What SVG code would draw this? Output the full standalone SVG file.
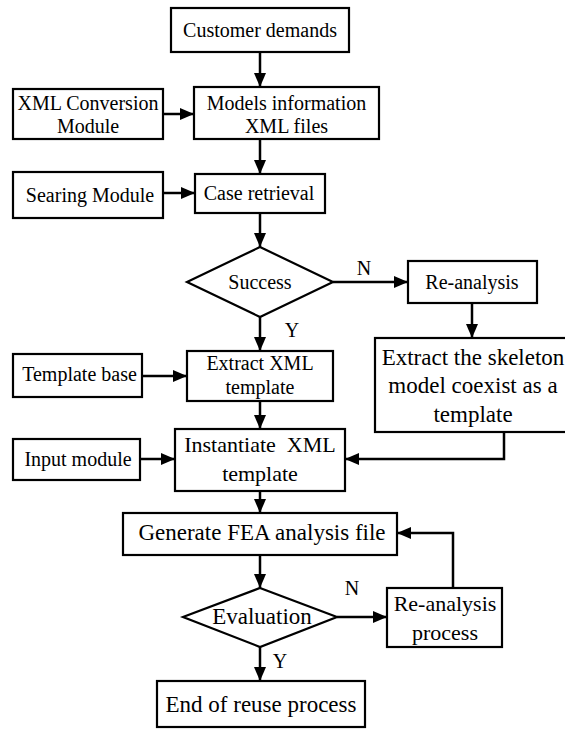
<svg xmlns="http://www.w3.org/2000/svg" width="565" height="729" viewBox="0 0 565 729">
<style>
.b{fill:#fff;stroke:#000;stroke-width:2.2}
.t{font-family:"Liberation Serif","Times New Roman",serif;font-size:20px;fill:#000;text-anchor:middle}
.l{font-size:23px}
.c{fill:none;stroke:#000;stroke-width:2.5}
</style>
<defs>
<marker id="ah" markerUnits="userSpaceOnUse" markerWidth="14" markerHeight="12" refX="14" refY="6" orient="auto">
<path d="M0,0 L14,6 L0,12 z" fill="#000"/>
</marker>
</defs>
<rect width="565" height="729" fill="#fff"/>
<g id="connectors">
<path class="c" d="M260,52 V87" marker-end="url(#ah)"/>
<path class="c" d="M163,114 H194" marker-end="url(#ah)"/>
<path class="c" d="M260,139 V174" marker-end="url(#ah)"/>
<path class="c" d="M163,193 H195" marker-end="url(#ah)"/>
<path class="c" d="M260,213 V247" marker-end="url(#ah)"/>
<path class="c" d="M333,282 H408" marker-end="url(#ah)"/>
<path class="c" d="M472,303 V338" marker-end="url(#ah)"/>
<path class="c" d="M260,317 V351" marker-end="url(#ah)"/>
<path class="c" d="M142,376 H187" marker-end="url(#ah)"/>
<path class="c" d="M260,401 V429" marker-end="url(#ah)"/>
<path class="c" d="M140,459 H175" marker-end="url(#ah)"/>
<path class="c" d="M504,432 V459 H345" marker-end="url(#ah)"/>
<path class="c" d="M260,491 V513" marker-end="url(#ah)"/>
<path class="c" d="M260,555 V588" marker-end="url(#ah)"/>
<path class="c" d="M260,647 V681" marker-end="url(#ah)"/>
<path class="c" d="M337,617 H387" marker-end="url(#ah)"/>
<path class="c" d="M453,588 V533 H397" marker-end="url(#ah)"/>
<text class="t" x="364" y="275">N</text>
<text class="t" x="292" y="337">Y</text>
<text class="t" x="352" y="595">N</text>
<text class="t" x="280" y="668">Y</text>
</g>
<g id="customer">
<rect class="b" x="171" y="8" width="178" height="44"/>
<text class="t" x="260" y="37">Customer demands</text>
</g>
<g id="xmlconv">
<rect class="b" x="13" y="89" width="150" height="50"/>
<text class="t" x="88" y="110">XML Conversion</text>
<text class="t" x="88" y="133">Module</text>
</g>
<g id="models">
<rect class="b" x="194" y="87" width="185" height="52"/>
<text class="t" x="286.5" y="110">Models information</text>
<text class="t" x="286.5" y="133">XML files</text>
</g>
<g id="searing">
<rect class="b" x="13" y="172" width="150" height="46"/>
<text class="t" x="90" y="202">Searing Module</text>
</g>
<g id="case">
<rect class="b" x="195" y="174" width="130" height="39"/>
<text class="t" x="259" y="200">Case retrieval</text>
</g>
<g id="success">
<polygon class="b" points="260,247 333,282 260,317 187,282"/>
<text class="t" x="260" y="289">Success</text>
</g>
<g id="reanalysis">
<rect class="b" x="408" y="261" width="129" height="42"/>
<text class="t" x="472" y="289">Re-analysis</text>
</g>
<g id="skeleton">
<rect class="b" x="375" y="338" width="200" height="94"/>
<text class="t l" x="473" y="365">Extract the skeleton</text>
<text class="t l" x="473" y="393">model coexist as a</text>
<text class="t l" x="473" y="422">template</text>
</g>
<g id="templatebase">
<rect class="b" x="13" y="354" width="129" height="43"/>
<text class="t" x="79.5" y="381">Template base</text>
</g>
<g id="extract">
<rect class="b" x="187" y="351" width="146" height="50"/>
<text class="t" x="260" y="370">Extract XML</text>
<text class="t" x="260" y="394">template</text>
</g>
<g id="input">
<rect class="b" x="13" y="439" width="127" height="41"/>
<text class="t" x="78" y="466">Input module</text>
</g>
<g id="instantiate">
<rect class="b" x="175" y="429" width="170" height="62"/>
<text class="t" x="260" y="452" style="font-size:22px;white-space:pre">Instantiate  XML</text>
<text class="t" x="260" y="481" style="font-size:22px">template</text>
</g>
<g id="generate">
<rect class="b" x="123" y="513" width="274" height="42"/>
<text class="t l" x="262" y="540">Generate FEA analysis file</text>
</g>
<g id="evaluation">
<polygon class="b" points="260,588 337,617 260,647 183,617"/>
<text class="t l" x="262" y="624">Evaluation</text>
</g>
<g id="reprocess">
<rect class="b" x="387" y="588" width="115" height="59"/>
<text class="t" x="445" y="611" style="font-size:22px">Re-analysis</text>
<text class="t" x="445" y="640" style="font-size:22px">process</text>
</g>
<g id="end">
<rect class="b" x="157" y="681" width="208" height="46"/>
<text class="t l" x="261" y="712">End of reuse process</text>
</g>
</svg>
